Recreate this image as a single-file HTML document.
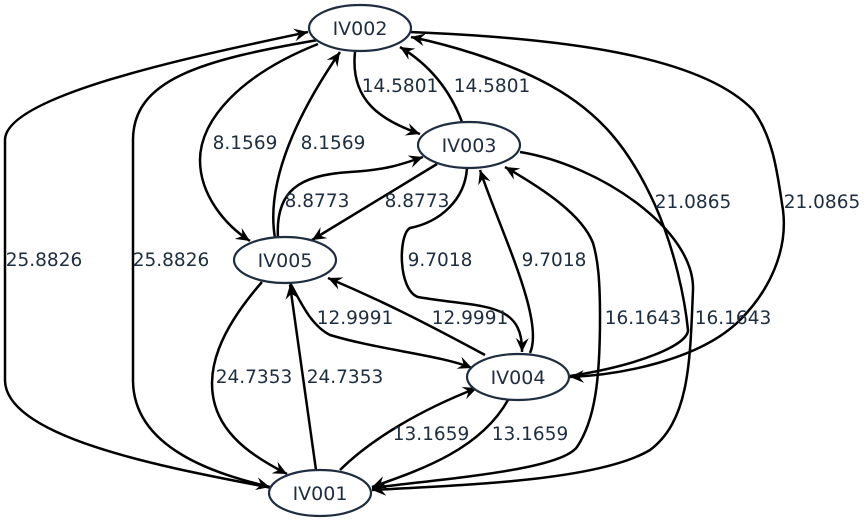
<!DOCTYPE html>
<html><head><meta charset="utf-8"><style>
html,body{margin:0;padding:0;background:#fff;}
svg{display:block;}
text{font-family:"DejaVu Sans","Liberation Sans",sans-serif;fill:#1e2d3f;}
</style></head><body>
<svg width="868" height="523" viewBox="0 0 868 523" xmlns="http://www.w3.org/2000/svg">
<defs>
<marker id="a" markerWidth="16" markerHeight="14" refX="14" refY="7" orient="auto" markerUnits="userSpaceOnUse">
<path d="M0,0.5 L14,7 L0,13.5 L5,7 Z" fill="#000"/>
</marker>
</defs>
<g fill="none" stroke="#000" stroke-width="2.5" marker-end="url(#a)">
<path d="M272,488 C180,470 5,440 5,380 L5,140 C5,95 200,55 308,32"/>
<path d="M318,40 C200,60 133,80 133,140 L133,380 C133,450 220,475 270,487"/>
<path d="M355,52 C350,100 380,120 420,134"/>
<path d="M462,122 C450,90 430,65 400,47"/>
<path d="M318,44 C240,75 200,120 200,160 C200,195 225,225 250,241"/>
<path d="M275,238 C265,180 300,110 340,52"/>
<path d="M278,238 C275,190 300,175 350,172 C385,170 400,165 423,157"/>
<path d="M437,164 L312,240"/>
<path d="M467,168 C465,200 440,222 410,228 C398,235 398,290 418,297 C480,308 523,300 522,352"/>
<path d="M530,353 C545,320 500,230 480,170"/>
<path d="M485,355 C420,320 380,300 328,278"/>
<path d="M290,283 C300,300 310,325 330,335 C380,350 440,355 472,368"/>
<path d="M262,282 C220,330 205,370 215,405 C225,440 260,460 287,474"/>
<path d="M316,470 L290,285"/>
<path d="M340,470 C370,440 420,410 477,388"/>
<path d="M508,400 C480,450 420,470 372,487"/>
<path d="M410,32 C560,38 700,55 753,110 C775,140 778,180 783,210 C788,250 770,290 740,320 C700,360 620,375 570,377"/>
<path d="M570,376 C640,365 688,345 688,330 C685,300 675,250 655,205 C630,150 600,110 540,80 C500,60 450,45 411,37"/>
<path d="M372,488 C450,478 560,470 577,447 C595,420 600,380 600,317 C600,280 598,260 593,243 C582,215 545,190 505,167"/>
<path d="M520,152 C600,165 695,230 693,290 C690,360 690,420 650,450 C600,480 470,485 372,490"/>
</g>
<g fill="#fff" stroke="#1e2d3f" stroke-width="2.2">
<ellipse cx="360" cy="28" rx="51" ry="23"/>
<ellipse cx="469" cy="145" rx="51" ry="23"/>
<ellipse cx="285" cy="260" rx="51" ry="23"/>
<ellipse cx="518" cy="377" rx="51" ry="23"/>
<ellipse cx="320" cy="493" rx="51" ry="23"/>
</g>
<g font-size="19" text-anchor="middle">
<text x="360" y="35">IV002</text>
<text x="469" y="152">IV003</text>
<text x="285" y="267">IV005</text>
<text x="518" y="384">IV004</text>
<text x="320" y="500">IV001</text>
</g>
<g font-size="18.5" text-anchor="middle">
<text x="400" y="92">14.5801</text>
<text x="492" y="92">14.5801</text>
<text x="245" y="149">8.1569</text>
<text x="333" y="149">8.1569</text>
<text x="317" y="207">8.8773</text>
<text x="417" y="207">8.8773</text>
<text x="440" y="266">9.7018</text>
<text x="554" y="266">9.7018</text>
<text x="355" y="324">12.9991</text>
<text x="470" y="324">12.9991</text>
<text x="254" y="383">24.7353</text>
<text x="345" y="383">24.7353</text>
<text x="431" y="440">13.1659</text>
<text x="530" y="440">13.1659</text>
<text x="44" y="266">25.8826</text>
<text x="171" y="266">25.8826</text>
<text x="693" y="208">21.0865</text>
<text x="822" y="208">21.0865</text>
<text x="643" y="324">16.1643</text>
<text x="733" y="324">16.1643</text>
</g>
</svg>
</body></html>
